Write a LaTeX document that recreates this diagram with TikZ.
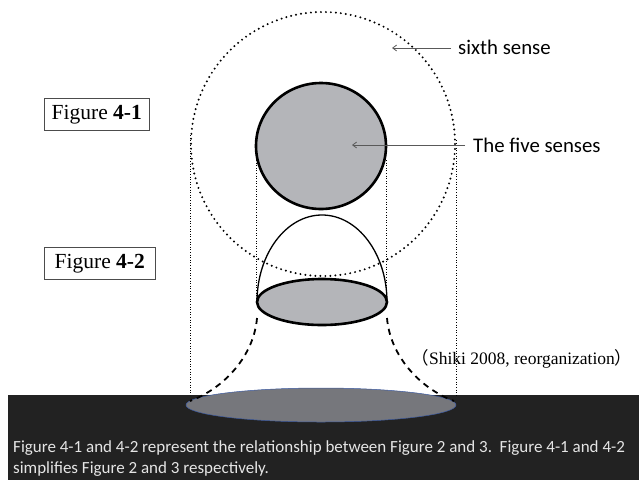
\documentclass[tikz,border=0pt]{standalone}
\usepackage{fontspec}
\setmainfont{Liberation Serif}
\newfontfamily\calibri{Carlito}
\newfontfamily\cjk{Noto Sans CJK JP}
\usetikzlibrary{arrows.meta}

\definecolor{sensegray}{RGB}{180,181,185}
\definecolor{groundgray}{RGB}{118,119,124}
\definecolor{bandblack}{RGB}{34,34,34}
\definecolor{rimblue}{RGB}{60,90,160}

\begin{document}
\begin{tikzpicture}[x=1pt,y=-1pt,
        bigdots/.style = {line width=2.2pt, line cap=round, dash pattern=on 0pt off 5pt},
        guide/.style = {line width=0.9pt, dash pattern=on 0.9pt off 1.7pt},
        sense/.style = {draw, line width=2.6pt, fill=sensegray},
        figbox/.style = {draw=black!70, line width=0.6pt, font=\fontsize{21.5}{24}\selectfont, minimum height=32pt, inner xsep=4pt, anchor=north west},
        sensetext/.style = {font=\calibri\fontsize{20.8}{24}\selectfont, anchor=west, inner sep=0pt},
        pointer/.style = {draw=black!65, line width=0.8pt, -{Straight Barb[length=4pt,width=6pt]}},
        ]
        \useasboundingbox (0,0) rectangle (639,480);

        % ground band
        \fill[bandblack] (8,395) rectangle (639,480);

        % guide lines
        \draw[guide] (190,135) -- (190,395);
        \draw[guide] (456,140) -- (456,395);
        \draw[guide] (256,160) -- (256,302);
        \draw[guide] (386,160) -- (386,302);

        % sixth sense
        \draw[bigdots] (323,144) circle [radius=132];

        % five senses
        \draw[sense] (321,146) ellipse [x radius=65, y radius=63];
        \draw[line width=1.3pt] (257,302) arc [start angle=180, end angle=360, x radius=65, y radius=87];
        \draw[sense] (322,302) ellipse [x radius=65, y radius=23];

        % ground
        \draw[rimblue, line width=0.5pt, fill=groundgray] (321,405) ellipse [x radius=135, y radius=17];
        \draw[line width=1.8pt, dash pattern=on 6pt off 5pt] (257,318) .. controls (254,355) and (225,388) .. (190,401);
        \draw[line width=1.8pt, dash pattern=on 6pt off 5pt] (387,318) .. controls (390,355) and (419,388) .. (454,401);

        % labels
        \node[figbox, minimum width=105pt] (fig41) at (44,98) {Figure \textbf{4-1}};
        \node[figbox, minimum width=111pt] (fig42) at (44,247) {Figure \textbf{4-2}};

        \node[sensetext] (sixth) at (458,47) {sixth sense};
        \coordinate (sixthtip) at (392,48);
        \draw[pointer] (sixth.west) ++(-7,1) -- (sixthtip);

        \node[sensetext] (five) at (473,145) {The five senses};
        \coordinate (fivetip) at (352,145);
        \draw[pointer] (five.west) ++(-8,0) -- (fivetip);

        \node[anchor=center, font=\fontsize{17.5}{20}\selectfont] (source) at (522,359) {{\cjk（}Shiki 2008, reorganization{\cjk）}};

        \node[anchor=north west, align=left, text=white!90!black, inner sep=0pt,
              font=\calibri\fontsize{17}{21}\selectfont] (caption) at (13,440)
              {Figure 4-1 and 4-2 represent the relationship between Figure 2 and 3.~~Figure 4-1 and 4-2\\
               simplifies Figure 2 and 3 respectively.};
    \end{tikzpicture}
\end{document}
